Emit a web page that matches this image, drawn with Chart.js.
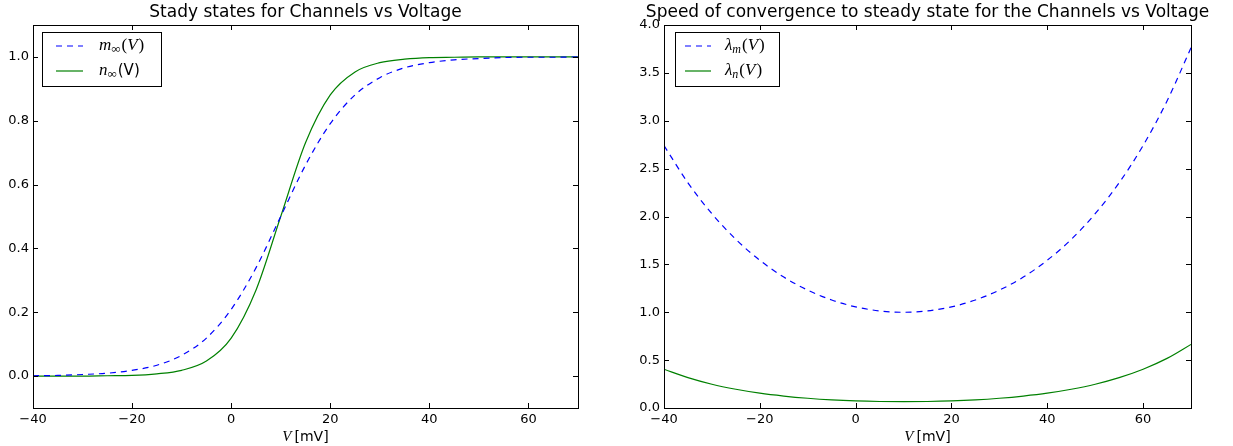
<!DOCTYPE html>
<html>
<head>
<meta charset="utf-8">
<script src="https://cdn.jsdelivr.net/npm/chart.js@4.4.1/dist/chart.umd.min.js"></script>
<style>
html, body { margin: 0; padding: 0; background: #fff; }
#wrap { position: relative; width: 1233px; height: 446px; overflow: hidden; }
canvas { position: absolute; top: 0; }
</style>
</head>
<body>
<div id="wrap">
  <canvas id="left" width="620" height="446" style="left:0px;width:620px;height:446px"></canvas>
  <canvas id="right" width="613" height="446" style="left:620px;width:613px;height:446px"></canvas>
</div>
<script>
// voltage samples (mV)
const voltage = [-40, -35, -30, -25, -20, -15, -10, -5, 0, 5, 10, 15, 20, 25, 30, 35, 40, 45, 50, 55, 60, 65, 70];

// steady states
const mInf = [0.001, 0.002, 0.005, 0.009, 0.018, 0.034, 0.065, 0.119, 0.209, 0.339, 0.5, 0.661, 0.791, 0.881, 0.935, 0.966, 0.982, 0.991, 0.995, 0.998, 0.999, 0.999, 1.0];
const nInf = [0.0, 0.0, 0.0, 0.001, 0.002, 0.007, 0.018, 0.047, 0.119, 0.269, 0.5, 0.731, 0.881, 0.953, 0.982, 0.993, 0.998, 0.999, 1.0, 1.0, 1.0, 1.0, 1.0];

// convergence speeds
const lambdaM = [2.741, 2.352, 2.029, 1.761, 1.543, 1.367, 1.231, 1.128, 1.056, 1.014, 1.0, 1.014, 1.056, 1.128, 1.231, 1.367, 1.543, 1.761, 2.029, 2.352, 2.741, 3.207, 3.762];
const lambdaN = [0.405, 0.317, 0.248, 0.196, 0.155, 0.125, 0.102, 0.085, 0.074, 0.068, 0.066, 0.068, 0.074, 0.085, 0.102, 0.125, 0.155, 0.196, 0.248, 0.317, 0.405, 0.518, 0.664];

// tick labels
const xTicks = [-40, -20, 0, 20, 40, 60];
const yTicksLeft = [0.0, 0.2, 0.4, 0.6, 0.8, 1.0];
const yTicksRight = [0.0, 0.5, 1.0, 1.5, 2.0, 2.5, 3.0, 3.5, 4.0];

const BLUE = '#0000ff';
const GREEN = '#008000';
const SANS = '"DejaVu Sans", sans-serif';
const SERIF = '"Liberation Serif", "DejaVu Serif", serif';

function pts(ys) {
  return voltage.map((v, i) => ({ x: v, y: ys[i] }));
}

// draws a row of text pieces with different fonts
function drawPieces(ctx, pieces, x, y, align) {
  let total = 0;
  pieces.forEach(p => { ctx.font = p.font; p.w = ctx.measureText(p.t).width; total += p.w + (p.gap || 0); });
  let cx = align === 'center' ? x - total / 2 : x;
  ctx.textBaseline = 'middle';
  ctx.textAlign = 'left';
  pieces.forEach(p => {
    ctx.font = p.font;
    ctx.fillText(p.t, cx, y + (p.dy || 0));
    cx += p.w + (p.gap || 0);
  });
}

const decor = {
  id: 'decor',
  afterDraw(chart, args, opts) {
    const ctx = chart.ctx;
    const a = chart.chartArea;
    const xs = chart.scales.x, ys = chart.scales.y;
    ctx.save();
    ctx.strokeStyle = '#000';
    ctx.lineWidth = 1;
    // inward ticks on all four sides
    ctx.beginPath();
    xs.ticks.forEach(t => {
      const px = Math.round(xs.getPixelForValue(t.value)) + 0.5;
      ctx.moveTo(px, a.bottom); ctx.lineTo(px, a.bottom - 5);
      ctx.moveTo(px, a.top); ctx.lineTo(px, a.top + 5);
    });
    ys.ticks.forEach(t => {
      const py = Math.round(ys.getPixelForValue(t.value)) + 0.5;
      ctx.moveTo(a.left, py); ctx.lineTo(a.left + 5, py);
      ctx.moveTo(a.right, py); ctx.lineTo(a.right - 5, py);
    });
    ctx.stroke();
    // frame
    ctx.strokeRect(Math.round(a.left) + 0.5, Math.round(a.top) + 0.5, Math.round(a.right - a.left), Math.round(a.bottom - a.top));

    ctx.fillStyle = '#000';
    // title
    ctx.font = '17px ' + SANS;
    ctx.textAlign = 'center';
    ctx.textBaseline = 'middle';
    ctx.fillText(opts.title, (a.left + a.right) / 2, 13);

    // x axis label
    drawPieces(ctx, [
      { t: 'V', font: 'italic 15px ' + SERIF, gap: 3 },
      { t: '[mV]', font: '14px ' + SANS }
    ], (a.left + a.right) / 2, 437, 'center');

    // legend
    const lg = opts.legend;
    ctx.fillStyle = '#fff';
    ctx.fillRect(lg.x, lg.y, lg.w, lg.h);
    ctx.strokeStyle = '#000';
    ctx.strokeRect(lg.x + 0.5, lg.y + 0.5, lg.w, lg.h);
    lg.rows.forEach(r => {
      ctx.beginPath();
      ctx.strokeStyle = r.color;
      ctx.lineWidth = 1.2;
      ctx.setLineDash(r.dash || []);
      ctx.moveTo(lg.x + lg.lineX0, r.y);
      ctx.lineTo(lg.x + lg.lineX1, r.y);
      ctx.stroke();
      ctx.setLineDash([]);
      ctx.fillStyle = '#000';
      drawPieces(ctx, r.pieces, lg.x + lg.textX, r.y, 'left');
    });
    ctx.restore();
  }
};

function makeChart(id, sets, yMin, yMax, yTicks, yWidth, padRight, title, legend) {
  return new Chart(document.getElementById(id), {
    type: 'line',
    data: { datasets: sets },
    options: {
      responsive: false,
      animation: false,
      layout: { padding: { top: 25, right: padRight, bottom: 0, left: 0 } },
      plugins: {
        legend: { display: false },
        tooltip: { enabled: false },
        decor: { title: title, legend: legend }
      },
      elements: { point: { radius: 0 }, line: { borderWidth: 1.2, cubicInterpolationMode: 'monotone' } },
      scales: {
        x: {
          type: 'linear', min: -40, max: 70,
          grid: { display: false, drawTicks: false },
          border: { display: false },
          afterBuildTicks: s => { s.ticks = xTicks.map(v => ({ value: v })); },
          afterFit: s => { s.height = 38; },
          ticks: {
            padding: 4,
            color: '#000',
            font: { family: SANS, size: 13 },
            callback: v => (v < 0 ? '\u2212' + Math.abs(v) : String(v))
          }
        },
        y: {
          type: 'linear', min: yMin, max: yMax,
          grid: { display: false, drawTicks: false },
          border: { display: false },
          afterBuildTicks: s => { s.ticks = yTicks.map(v => ({ value: v })); },
          afterFit: s => { s.width = yWidth; },
          ticks: {
            padding: 4,
            color: '#000',
            font: { family: SANS, size: 13 },
            callback: v => Number(v).toFixed(1)
          }
        }
      }
    },
    plugins: [decor]
  });
}

const mathIt = 'italic 17px ' + SERIF;
const mathUp = '17px ' + SERIF;
const subIt = 'italic 12px ' + SERIF;
const subUp = '13px ' + SERIF;

makeChart('left', [
  { data: pts(mInf), borderColor: BLUE, borderDash: [6, 5] },
  { data: pts(nInf), borderColor: GREEN }
], -0.1, 1.1, yTicksLeft, 33, 42, 'Stady states for Channels vs Voltage', {
  x: 42, y: 32, w: 119, h: 54, lineX0: 14, lineX1: 41, textX: 57,
  rows: [
    { y: 46, color: BLUE, dash: [6, 5], pieces: [
      { t: 'm', font: mathIt },
      { t: '\u221e', font: subUp, dy: 4, gap: 1 },
      { t: '(', font: mathUp },
      { t: 'V', font: mathIt, gap: 1 },
      { t: ')', font: mathUp }
    ] },
    { y: 71, color: GREEN, pieces: [
      { t: 'n', font: mathIt },
      { t: '\u221e', font: subUp, dy: 4, gap: 1 },
      { t: '(V)', font: '15px ' + SANS }
    ] }
  ]
});

makeChart('right', [
  { data: pts(lambdaM), borderColor: BLUE, borderDash: [6, 5] },
  { data: pts(lambdaN), borderColor: GREEN }
], 0, 4, yTicksRight, 44, 42, 'Speed of convergence to steady state for the Channels vs Voltage', {
  x: 55, y: 32, w: 104, h: 54, lineX0: 10, lineX1: 36, textX: 50,
  rows: [
    { y: 46, color: BLUE, dash: [6, 5], pieces: [
      { t: '\u03bb', font: mathIt },
      { t: 'm', font: subIt, dy: 4, gap: 1 },
      { t: '(', font: mathUp },
      { t: 'V', font: mathIt, gap: 1 },
      { t: ')', font: mathUp }
    ] },
    { y: 71, color: GREEN, pieces: [
      { t: '\u03bb', font: mathIt },
      { t: 'n', font: subIt, dy: 4, gap: 1 },
      { t: '(', font: mathUp },
      { t: 'V', font: mathIt, gap: 1 },
      { t: ')', font: mathUp }
    ] }
  ]
});
</script>
</body>
</html>
